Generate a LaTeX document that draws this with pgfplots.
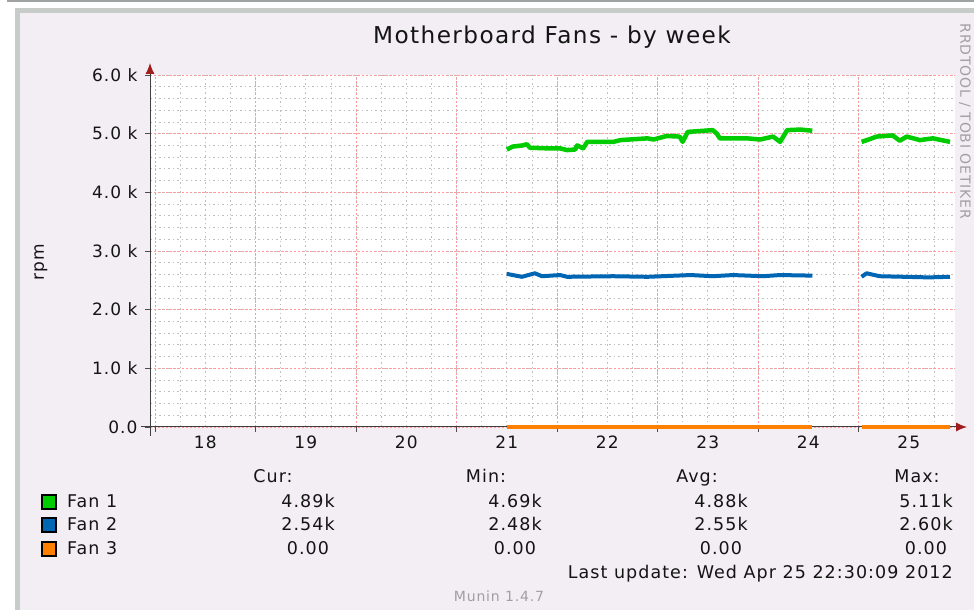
\documentclass[border=0pt]{standalone}
\usepackage{fontspec}
\setmainfont{DejaVu Sans}
\newfontfamily\rrd[LetterSpace=6]{DejaVu Sans}
\usepackage{pgfplots}
\pgfplotsset{compat=1.18}
\usetikzlibrary{arrows.meta}
\definecolor{lav}{RGB}{243,237,244}
\definecolor{frameg}{RGB}{200,204,200}
\definecolor{darkg}{RGB}{160,164,160}
\definecolor{arrowred}{RGB}{160,30,30}
\definecolor{fanA}{RGB}{0,204,0}
\definecolor{fanB}{RGB}{0,102,179}
\definecolor{fanC}{RGB}{255,128,0}
\definecolor{txt}{RGB}{20,20,20}
\definecolor{lgray}{RGB}{160,160,160}
\newcommand\fs[1]{\fontsize{#1bp}{#1bp}\selectfont\rrd}
\begin{document}
\begin{tikzpicture}
\begin{scope}[x=1bp,y=1bp]
\useasboundingbox (0,0) rectangle (974,610);
\fill[white] (0,0) rectangle (974,610);
\fill[darkg] (7,607.5) rectangle (974,610);
\fill[frameg] (15,0) rectangle (974,602);
\fill[lav] (20,0) rectangle (974,597);
% title and side text
\node[txt, anchor=base] at (552,566) {\fs{23.2}Motherboard Fans - by week};
\node[lgray, rotate=-90, anchor=center] at (965,488.5) {\fs{14}RRDTOOL / TOBI OETIKER};
\node[txt, rotate=90, anchor=center] at (41,348) {\fs{17}rpm};
% legend
\node[txt, anchor=base] at (273,127) {\fs{17.5}Cur:};
\node[txt, anchor=base] at (486,127) {\fs{17.5}Min:};
\node[txt, anchor=base] at (697,127) {\fs{17.5}Avg:};
\node[txt, anchor=base] at (917,127) {\fs{17.5}Max:};
\foreach \yy/\col/\nm/\a/\b/\c/\d in {102/fanA/Fan 1/4.89k/4.69k/4.88k/5.11k, 79/fanB/Fan 2/2.54k/2.48k/2.55k/2.60k, 55/fanC/Fan 3/0.00/0.00/0.00/0.00}{
  \filldraw[fill=\col, draw=black, line width=1.4bp] (42,\yy-1) rectangle (56,\yy+13);
  \node[txt, anchor=base west, inner sep=0pt] at (67,\yy) {\fs{17.5}\nm};
  \node[txt, anchor=base] at (308,\yy) {\fs{17.5}\a};
  \node[txt, anchor=base] at (515,\yy) {\fs{17.5}\b};
  \node[txt, anchor=base] at (721,\yy) {\fs{17.5}\c};
  \node[txt, anchor=base] at (926,\yy) {\fs{17.5}\d};
}
\node[txt, anchor=base east, inner sep=0pt] at (953,31) {\fs{17.5}Last update: Wed Apr 25 22:30:09 2012};
\node[lgray, anchor=base] at (499,8) {\fs{14}Munin 1.4.7};
\end{scope}
\begin{axis}[
  at={(150bp,183bp)}, anchor=south west,
  scale only axis, width=805bp, height=352bp,
  xmin=17.950, xmax=25.960, ymin=0, ymax=6000,
  axis background/.style={fill=white},
  axis lines=left,
  axis line style={draw=black!75, line width=1bp, -{Latex[length=11bp,width=9bp,color=arrowred]}, shorten <=-9bp, shorten >=-12bp},
  tick align=outside, major tick length=5bp, minor tick length=0bp,
  tick style={black!70, line width=0.8bp},
  grid=both,
  major grid style={dash pattern=on 1.5bp off 2.5bp, color=red!40, line width=0.9bp},
  minor grid style={dash pattern=on 1.5bp off 3bp, color=black!25, line width=0.8bp},
  xtick={18,19,20,21,22,23,24,25},
  xticklabels={18,19,20,21,22,23,24,25},
  xticklabel style={xshift=50.25bp, font=\fs{17}, text=txt},
  minor xtick={18.25,18.5,...,25.75},
  ytick={0,1000,2000,3000,4000,5000,6000},
  yticklabels={0.0,1.0 k,2.0 k,3.0 k,4.0 k,5.0 k,6.0 k},
  yticklabel style={xshift=-4bp, font=\fs{17}, text=txt},
  minor ytick={200,400,...,6000},
  unbounded coords=jump,
  clip=false,
]
\addplot[fanA, line width=4.5bp, line join=round] coordinates {
(21.50,4730) (21.56,4780) (21.66,4800) (21.70,4820) (21.73,4760) (21.90,4750)
(22.03,4750) (22.10,4720) (22.18,4730) (22.20,4800) (22.26,4750) (22.30,4860)
(22.56,4860) (22.63,4890) (22.90,4920) (22.96,4900) (23.09,4960) (23.22,4950)
(23.25,4860) (23.30,5030) (23.55,5060) (23.59,5000) (23.62,4920) (23.89,4920)
(24.02,4900) (24.15,4950) (24.22,4860) (24.29,5060) (24.42,5070) (24.54,5050)
(24.80,nan)
(25.03,4860) (25.10,4900) (25.18,4950) (25.34,4970) (25.41,4880) (25.48,4950)
(25.61,4890) (25.74,4920) (25.91,4860)
};
\addplot[fanB, line width=4bp, line join=round] coordinates {
(21.50,2610) (21.65,2560) (21.78,2620) (21.85,2570) (22.03,2590) (22.10,2560)
(22.56,2570) (22.90,2560) (23.33,2590) (23.55,2570) (23.75,2590) (24.05,2570)
(24.22,2590) (24.54,2580)
(24.80,nan)
(25.03,2560) (25.08,2620) (25.21,2570) (25.70,2550) (25.91,2560)
};
\addplot[fanC, line width=3.5bp] coordinates {
(21.50,0) (24.54,0) (24.80,nan) (25.03,0) (25.91,0)
};
\end{axis}
\end{tikzpicture}
\end{document}
